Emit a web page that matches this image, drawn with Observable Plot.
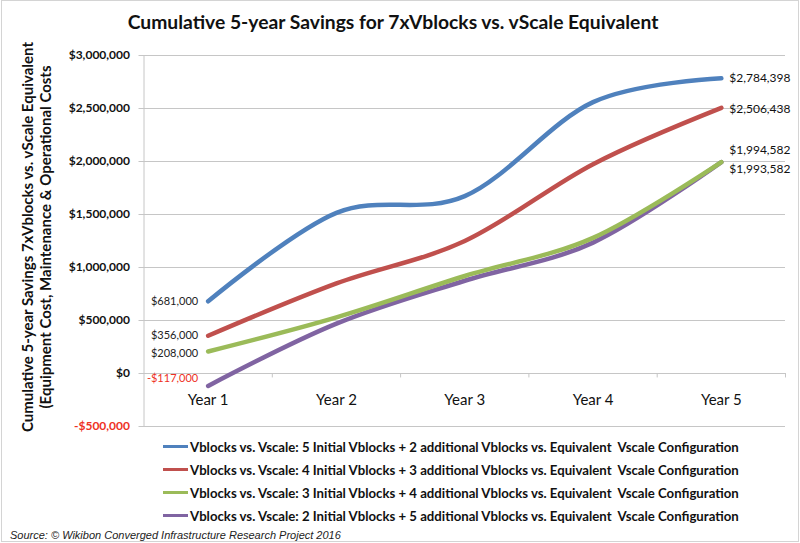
<!DOCTYPE html>
<html><head><meta charset="utf-8">
<script src="https://cdn.jsdelivr.net/npm/d3@7"></script>
<script src="https://cdn.jsdelivr.net/npm/@observablehq/plot@0.6"></script>
<style>
body{margin:0;background:#fff;}
#wrap{position:relative;width:800px;height:543px;font-family:Lato,sans-serif;overflow:hidden;background:#fff;}
#border{position:absolute;left:1px;top:0;right:1px;bottom:1px;border:1px solid #d4d4d4;pointer-events:none;}
#chart{position:absolute;left:0;top:0;}
#title{position:absolute;left:0;top:10px;width:786px;text-align:center;font-weight:bold;font-size:19.3px;color:#111;}
#ytitle{position:absolute;width:460px;height:36px;left:-194px;top:219px;transform:rotate(-90deg);text-align:center;font-weight:bold;font-size:15px;line-height:18px;color:#111;white-space:nowrap;}
#legend{position:absolute;left:163px;top:435px;font-weight:bold;font-size:13.2px;color:#111;}
.row{display:flex;align-items:center;height:23px;white-space:pre;}
.sw{width:25px;height:3px;margin-right:2px;}
#source{position:absolute;left:10px;top:529px;font-family:"Liberation Sans",Arial,sans-serif;font-style:italic;font-size:11px;color:#222;}
</style></head><body>
<div id="wrap">
  <div id="chart"></div>
  <div id="title">Cumulative 5-year Savings for 7xVblocks vs. vScale Equivalent</div>
  <div id="ytitle">Cumulative 5-year Savings 7xVblocks vs. vScale Equivalent<br>(Equipment Cost, Maintenance &amp; Operational Costs</div>
  <div id="legend"></div>
  <div id="source">Source: © Wikibon Converged Infrastructure Research Project 2016</div>
  <div id="border"></div>
</div>
<script>
const years = ["Year 1", "Year 2", "Year 3", "Year 4", "Year 5"];
const seriesNames = [
  "Vblocks vs. Vscale: 5 Initial Vblocks + 2 additional Vblocks vs. Equivalent  Vscale Configuration",
  "Vblocks vs. Vscale: 4 Initial Vblocks + 3 additional Vblocks vs. Equivalent  Vscale Configuration",
  "Vblocks vs. Vscale: 3 Initial Vblocks + 4 additional Vblocks vs. Equivalent  Vscale Configuration",
  "Vblocks vs. Vscale: 2 Initial Vblocks + 5 additional Vblocks vs. Equivalent  Vscale Configuration"
];
const blueValues = [681000, 1516000, 1673000, 2560000, 2784398];
const redValues = [356000, 850000, 1250000, 1975000, 2506438];
const greenValues = [208000, 530000, 920000, 1280000, 1994582];
const purpleValues = [-117000, 470000, 875000, 1235000, 1993582];
const yTicks = [-500000, 0, 500000, 1000000, 1500000, 2000000, 2500000, 3000000];

const colors = ["#4F81BD", "#C0504D", "#9BBB59", "#8064A2"];
const allValues = [blueValues, redValues, greenValues, purpleValues];
// label offsets (style only)
const leftDy = [0, 0, 2, -7];
const rightDy = [0, 1, -12, 7];

const money = v => (v < 0 ? "-" : "") + "$" + d3.format(",")(Math.abs(v));
const grid = "#c6c6c6";
const red = "#EE3124";

const series = allValues.map((vals, si) => vals.map((v, i) => ({s: si, x: i + 1, y: v})));
const boundaries = years.map((d, i) => i + 1.5);

const marks = [
  Plot.ruleY(yTicks, {stroke: grid, insetLeft: -5}),
  Plot.ruleX([0.5], {stroke: grid}),
  Plot.ruleX(boundaries, {y1: 0, y2: -42000, stroke: grid}),
  Plot.text(yTicks.filter(d => d >= 0), {y: d => d, frameAnchor: "left", dx: -14, textAnchor: "end", text: d => money(d), fontWeight: "bold", fontSize: 12, fill: "#111"}),
  Plot.text(yTicks.filter(d => d < 0), {y: d => d, frameAnchor: "left", dx: -14, textAnchor: "end", text: d => money(d), fontWeight: "bold", fontSize: 12, fill: red}),
  Plot.text(years, {x: (d, i) => i + 1, y: 0, dy: 27, text: d => d, fontSize: 15, fill: "#111"})
];
series.slice().reverse().forEach((data, k) => {
  const si = series.length - 1 - k;
  marks.push(Plot.line(data, {x: "x", y: "y", stroke: colors[si], strokeWidth: 4.5, curve: "cardinal", strokeLinecap: "round"}));
});
series.forEach((data, si) => {
  const first = data[0], last = data[data.length - 1];
  marks.push(Plot.text([first], {x: "x", y: "y", text: d => money(d.y), textAnchor: "end", dx: -10, dy: leftDy[si], fontSize: 11, fill: first.y < 0 ? red : "#222"}));
  marks.push(Plot.text([last], {x: "x", y: "y", text: d => money(d.y), textAnchor: "start", dx: 8, dy: rightDy[si], fontSize: 12, fill: "#111"}));
});

const chart = Plot.plot({
  width: 800, height: 440,
  marginTop: 55, marginBottom: 14, marginLeft: 143.5, marginRight: 15,
  x: {type: "linear", domain: [0.5, 5.5], axis: null},
  y: {type: "linear", domain: [-500000, 3000000], axis: null},
  style: {fontFamily: "Lato, sans-serif", background: "transparent"},
  marks
});
document.getElementById("chart").appendChild(chart);

const legend = document.getElementById("legend");
seriesNames.forEach((name, i) => {
  const row = document.createElement("div");
  row.className = "row";
  const sw = document.createElement("span");
  sw.className = "sw";
  sw.style.background = colors[i];
  const t = document.createElement("span");
  t.textContent = name;
  row.appendChild(sw); row.appendChild(t);
  legend.appendChild(row);
});
</script>
</body></html>
